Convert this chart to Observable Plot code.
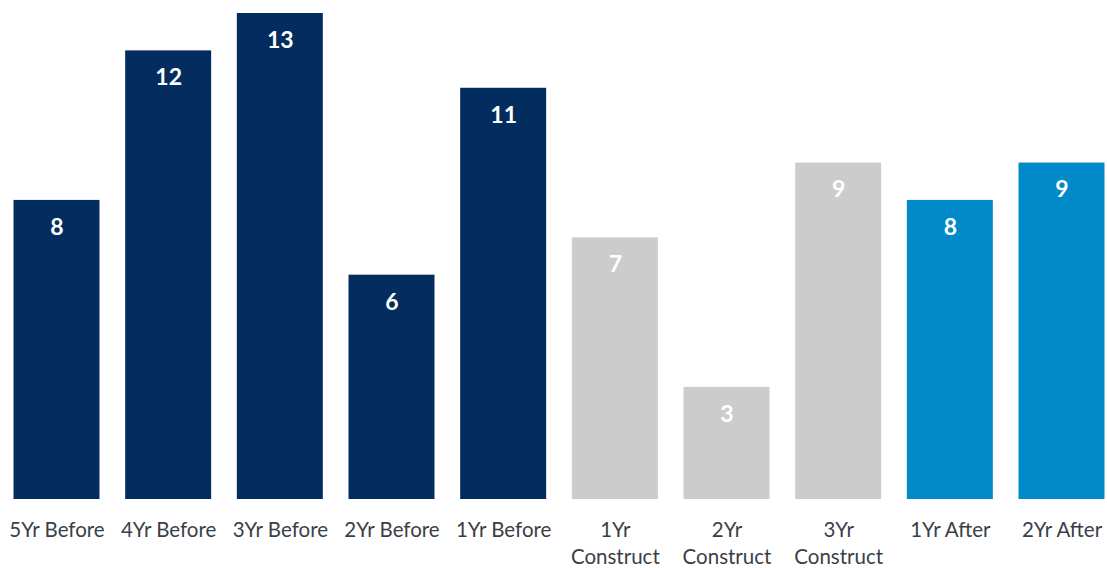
<!DOCTYPE html>
<html>
<head>
<meta charset="utf-8">
<script src="https://cdn.jsdelivr.net/npm/d3@7"></script>
<script src="https://cdn.jsdelivr.net/npm/@observablehq/plot@0.6"></script>
<style>
  html, body { margin: 0; padding: 0; background: #fff; }
</style>
</head>
<body>
<div id="chart"></div>
<script>
const categories = ["5Yr Before", "4Yr Before", "3Yr Before", "2Yr Before", "1Yr Before",
  "1Yr\nConstruct", "2Yr\nConstruct", "3Yr\nConstruct", "1Yr After", "2Yr After"];
const values = [8, 12, 13, 6, 11, 7, 3, 9, 8, 9];
const groups = ["Before", "Before", "Before", "Before", "Before",
  "Construct", "Construct", "Construct", "After", "After"];
const groupColors = {Before: "#032D5F", Construct: "#CCCCCC", After: "#008AC9"};

const data = categories.map((c, i) => ({category: c, value: values[i], group: groups[i]}));

const chart = Plot.plot({
  width: 1107,
  height: 568,
  marginTop: 13,
  marginBottom: 69,
  marginLeft: 13.5,
  marginRight: 2.5,
  style: {fontFamily: "Lato, 'Noto Sans', sans-serif", background: "#fff"},
  x: {domain: categories, paddingInner: 0.23, paddingOuter: 0, round: false, label: null},
  y: {domain: [0, 13], axis: null},
  color: {domain: Object.keys(groupColors), range: Object.values(groupColors)},
  marks: [
    Plot.barY(data, {x: "category", y: "value", fill: "group"}),
    Plot.text(data, {
      x: "category", y: "value", text: d => String(d.value),
      dy: 27, fill: "white", fontWeight: "bold", fontSize: 23
    }),
    Plot.axisX({
      tickSize: 0, tickPadding: 18, fontSize: 20.5, lineHeight: 1.32,
      fill: "#3a3f47", label: null
    })
  ]
});
document.getElementById("chart").appendChild(chart);
</script>
</body>
</html>
